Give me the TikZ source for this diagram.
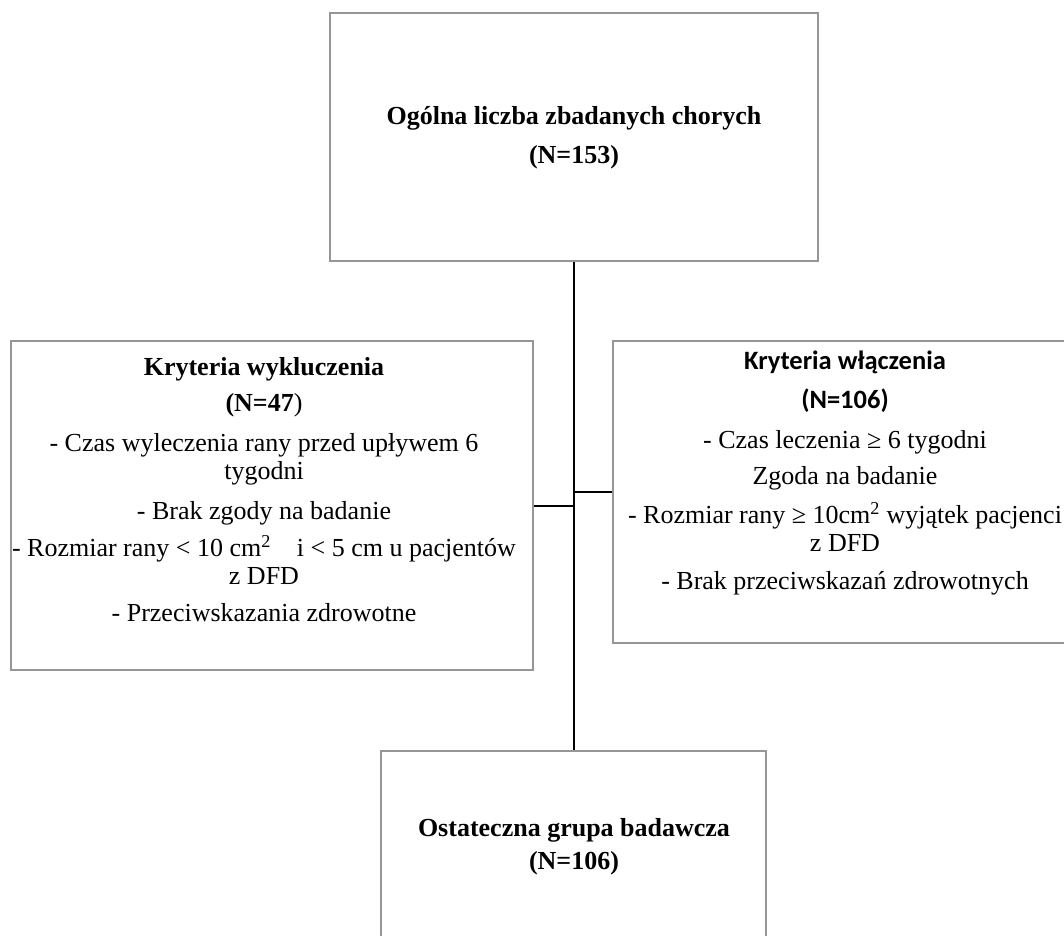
\documentclass[tikz,border=0pt]{standalone}
\usepackage{fontspec}
\setmainfont{Liberation Serif}
\newfontfamily\calib{Carlito}
\definecolor{boxgray}{RGB}{150,150,150}
\begin{document}
\begin{tikzpicture}[x=1pt,y=-1pt,
  boxst/.style={draw=boxgray, line width=1.1pt, inner sep=0pt},
  txt/.style={align=center, inner sep=0pt, font=\fontsize{26}{28}\selectfont},
  conn/.style={draw=black, line width=2.6pt}]
\clip (0,0) rectangle (1064,935);
% boxes
\node[boxst, minimum width=488pt, minimum height=248pt] (top) at (574,137) {};
\node[boxst, minimum width=522pt, minimum height=329pt] (left) at (272,505.5) {};
\node[boxst, minimum width=464pt, minimum height=302pt] (right) at (845,492) {};
\node[boxst, minimum width=385pt, minimum height=191pt] (bot) at (573.5,846.5) {};
% texts
\node[txt] (toptext) at (574,137.5) {\bfseries Ogólna liczba zbadanych chorych\\[11pt]\bfseries (N=153)};
\node[txt] (lefttext) at (264,489.5) {\textbf{Kryteria wykluczenia}\\[8pt]
  \textbf{(N=47})\\[12pt]
  - Czas wyleczenia rany przed upływem 6\\
  tygodni\\[12pt]
  - Brak zgody na badanie\\[9pt]
  - Rozmiar rany < 10 cm\textsuperscript{2}\quad i < 5 cm u pacjentów\\
  z DFD\\[9pt]
  - Przeciwskazania zdrowotne};
\node[txt] (righttext) at (845,473) {{\calib\bfseries\fontsize{26.5}{28}\selectfont Kryteria włączenia}\\[11pt]
  {\calib\bfseries\fontsize{26.5}{28}\selectfont (N=106)}\\[12pt]
  - Czas leczenia ≥ 6 tygodni\\[8pt]
  Zgoda na badanie\\[11pt]
  - Rozmiar rany ≥ 10cm\textsuperscript{2} wyjątek pacjenci\\
  z DFD\\[10pt]
  - Brak przeciwskazań zdrowotnych};
\node[txt] (bottext) at (574,846.5) {\bfseries Ostateczna grupa badawcza\\[5pt]\bfseries (N=106)};
% connectors
\coordinate (jl) at (top.south |- 0,506);
\coordinate (jr) at (top.south |- 0,492);
\draw[conn] (top.south) -- (top.south |- bot.north);
\draw[conn] (jl) -- (jl -| left.east);
\draw[conn] (jr) -- (jr -| right.west);
\end{tikzpicture}
\end{document}
